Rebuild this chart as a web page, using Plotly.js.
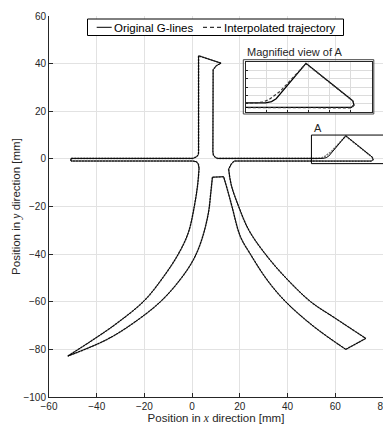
<!DOCTYPE html>
<html><head><meta charset="utf-8">
<script src="https://cdn.plot.ly/plotly-3.0.1.min.js"></script>
<style>html,body{margin:0;padding:0;background:#fff}#c{width:383px;height:424px}</style>
</head><body><div id="c"></div><script>
// ---- Original G-lines (closed outline), in mm ----
// straight part: left strip, vertical stem, right strip with the peak of region A, notch
var topPartX = [-50.8, -50.8, 0.3, 1.8, 2.6, 2.7, 2.7, 12.1, 10.1, 8.8, 8.7, 8.9, 9.8, 10.8,
                54.8, 56.2, 57.3, 64.4, 74.8, 75.6, 75.8, 75.2, 17.6, 16.4, 15.3];
var topPartY = [-0.9, 0.2, 0.2, 0.8, 1.8, 3.0, 43.3, 40.2, 39.1, 37.4, 3.0, 1.6, 0.5, 0.2,
                0.2, 0.5, 1.2, 9.7, 1.3, 0.6, -0.3, -0.9, -0.9, -2.2, -4.3];
// same straight part for the interpolated trajectory (rounded corner before the peak)
var interpTopX = [-50.8, -50.8, 0.3, 1.8, 2.6, 2.7, 2.7, 12.1, 10.1, 8.8, 8.7, 8.9, 9.8, 10.8,
                  52.5, 54.2, 55.6, 56.8, 58.2, 64.4, 74.6, 75.5, 75.9, 75.3, 17.6, 16.4, 15.3];
var interpTopY = [-0.9, 0.2, 0.2, 0.8, 1.8, 3.0, 43.3, 40.2, 39.1, 37.4, 3.0, 1.6, 0.5, 0.2,
                  0.2, 0.4, 1.0, 1.9, 2.9, 9.6, 1.4, 0.7, -0.3, -1.0, -0.9, -2.2, -4.3];
// right arm
var outerRightX = [15.3, 16.4, 19.5, 23.8, 30.7, 39.3, 49.7, 59.5, 72.8];
var outerRightY = [-4.3, -11, -20, -30, -40, -50, -60, -66.6, -75.4];
var rightTipX = [72.8, 64.4];
var rightTipY = [-75.4, -80];
var innerRightX = [64.4, 51.1, 39.2, 31.4, 24.4, 20.2, 16.7, 14.8, 13.2];
var innerRightY = [-80, -70.5, -60, -50.8, -40, -32.6, -20, -13, -7.5];
// centre bottom edge
var centreX = [13.2, 8.5];
var centreY = [-7.5, -7.7];
// left arm
var innerLeftX = [8.5, 7.8, 6.8, 4.0, 0.5, -5.1, -13.3, -24.7, -36.0, -52.1];
var innerLeftY = [-7.7, -14.4, -22.8, -34, -42.4, -50.8, -60, -69, -76, -82.8];
var outerLeftX = [-52.1, -41.6, -31.5, -20.0, -12.0, -5.8, -1.6, 0.9, 2.3, 2.9];
var outerLeftY = [-82.8, -76, -69, -59.5, -49.5, -40, -31, -20, -11, -4.0];
var closeX = [2.9, 2.6, 1.8, 0.3, -50.8];
var closeY = [-4.0, -2.2, -1.2, -0.9, -0.9];

var legendNames = ['Original G-lines', 'Interpolated trajectory'];
var xTicks = [-60, -40, -20, 0, 20, 40, 60, 80];
var yTicks = [-100, -80, -60, -40, -20, 0, 20, 40, 60];

var FONT = 'Liberation Sans, Arial, sans-serif';
var AX = '#262626';

var origSegs = [[topPartX, topPartY, 'linear'], [outerRightX, outerRightY, 'spline'], [rightTipX, rightTipY, 'linear'],
  [innerRightX, innerRightY, 'spline'], [centreX, centreY, 'linear'], [innerLeftX, innerLeftY, 'spline'],
  [outerLeftX, outerLeftY, 'spline'], [closeX, closeY, 'linear']];
var interpSegs = origSegs.slice();
interpSegs[0] = [interpTopX, interpTopY, 'linear'];

var traces = [];
function addSegs(segs, name, line, xa, ya) {
  segs.forEach(function (s) {
    traces.push({x: s[0], y: s[1], mode: 'lines', name: name, legendgroup: name, showlegend: false,
      line: Object.assign({shape: s[2], smoothing: 1}, line), xaxis: xa, yaxis: ya, hoverinfo: 'skip'});
  });
}
addSegs(interpSegs, legendNames[1], {color: '#777', width: 1.6, dash: '2px,1px'}, 'x', 'y');
addSegs(origSegs, legendNames[0], {color: '#000', width: 1}, 'x', 'y');
addSegs(origSegs, legendNames[0], {color: '#000', width: 1.2}, 'x2', 'y2');
addSegs(interpSegs, legendNames[1], {color: '#333', width: 1.2, dash: '3px,2px'}, 'x2', 'y2');

function px2x(p) { return (p - 49) / 334; }
function px2y(p) { return (397 - p) / 381; }

var layout = {
  width: 383, height: 424,
  margin: {l: 49, r: 0, t: 16, b: 27, pad: 0},
  paper_bgcolor: '#fff', plot_bgcolor: '#fff',
  font: {family: FONT, size: 10, color: AX},
  showlegend: false,
  xaxis: {
    range: [-60, 80], tickvals: xTicks, ticks: 'inside', ticklen: 4, tickcolor: AX,
    ticklabeloverflow: 'allow',
    showline: true, linecolor: AX, linewidth: 1, zeroline: false,
    showgrid: true, gridcolor: '#e2e2e2', gridwidth: 1,
    tickfont: {size: 10, color: AX},
    title: {text: 'Position in <span style="font-family:Liberation Serif"><i>x</i></span> direction [mm]', font: {size: 11.5, color: AX}, standoff: 1}
  },
  yaxis: {
    range: [-100, 60], tickvals: yTicks, ticks: 'inside', ticklen: 4, tickcolor: AX,
    showline: true, linecolor: AX, linewidth: 1, zeroline: false,
    showgrid: true, gridcolor: '#e2e2e2', gridwidth: 1,
    tickfont: {size: 10, color: AX},
    title: {text: 'Position in <span style="font-family:Liberation Serif"><i>y</i></span> direction [mm]', font: {size: 11.5, color: AX}, standoff: 0}
  },
  xaxis2: {
    domain: [px2x(245.5), px2x(371.5)], anchor: 'y2', range: [50, 80], dtick: 5,
    ticks: 'inside', ticklen: 2, tickcolor: AX, showticklabels: false,
    showline: true, mirror: true, linecolor: AX, linewidth: 1, zeroline: false,
    showgrid: true, gridcolor: '#dcdcdc'
  },
  yaxis2: {
    domain: [px2y(112), px2y(62)], anchor: 'x2', range: [-2, 10], dtick: 2,
    ticks: 'inside', ticklen: 2, tickcolor: AX, showticklabels: false,
    showline: true, mirror: true, linecolor: AX, linewidth: 1, zeroline: false,
    showgrid: true, gridcolor: '#dcdcdc'
  },
  shapes: [
    {type: 'rect', xref: 'x', yref: 'y', x0: 50, x1: 82, y0: -2, y1: 10, line: {color: '#000', width: 1}},
    {type: 'rect', xref: 'paper', yref: 'paper', x0: px2x(243.3), x1: px2x(373.8), y0: px2y(114), y1: px2y(59.7), line: {color: '#444', width: 1}, layer: 'above'},
    {type: 'rect', xref: 'paper', yref: 'paper', x0: px2x(87.5), x1: px2x(343.5), y0: px2y(35.5), y1: px2y(19), line: {color: '#000', width: 1}, fillcolor: '#fff', layer: 'above'},
    {type: 'line', xref: 'paper', yref: 'paper', x0: px2x(96.7), x1: px2x(111.7), y0: px2y(27.3), y1: px2y(27.3), line: {color: '#000', width: 1}, layer: 'above'},
    {type: 'line', xref: 'paper', yref: 'paper', x0: px2x(203), x1: px2x(221.7), y0: px2y(27.3), y1: px2y(27.3), line: {color: '#000', width: 1, dash: '4px,3px'}, layer: 'above'}
  ],
  annotations: [
    {xref: 'paper', yref: 'paper', x: px2x(111.5), y: px2y(27.5), xanchor: 'left', yanchor: 'middle', showarrow: false, text: legendNames[0], font: {size: 11.5, color: '#000'}},
    {xref: 'paper', yref: 'paper', x: px2x(221.5), y: px2y(27.5), xanchor: 'left', yanchor: 'middle', showarrow: false, text: legendNames[1], font: {size: 11.5, color: '#000'}},
    {xref: 'paper', yref: 'paper', x: px2x(244.5), y: px2y(52.3), xanchor: 'left', yanchor: 'middle', showarrow: false, text: 'Magnified view of A', font: {size: 11, color: AX}},
    {xref: 'x', yref: 'y', x: 50.2, y: 9.8, xanchor: 'left', yanchor: 'bottom', showarrow: false, text: 'A', font: {size: 11, color: AX}}
  ]
};

Plotly.newPlot('c', traces, layout, {displayModeBar: false, staticPlot: true});
</script></body></html>
